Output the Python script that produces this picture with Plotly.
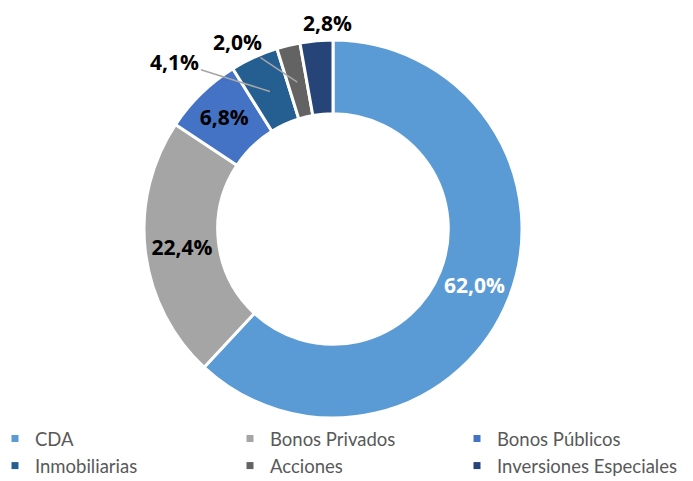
import math
import plotly.graph_objects as go

categories = ["CDA", "Bonos Privados", "Bonos Públicos", "Inmobiliarias", "Acciones", "Inversiones Especiales"]
values = [62.0, 22.4, 6.8, 4.1, 2.0, 2.8]
colors = ["#5B9BD5", "#A5A5A5", "#4472C4", "#255E91", "#636363", "#264478"]
text_colors = ["white", "black", "black", "black", "black", "black"]
inside = [True, True, True, False, False, False]

labels_txt = [f"{v:.1f}%".replace(".", ",") for v in values]

# the page body adds an 8px margin, so the figure is 8px smaller than the window
W, H = 685, 473
CX, CY, R = 325, 221, 189          # pie centre / radius in figure pixels
dom_x = [(CX - R) / W, (CX + R) / W]
dom_y = [(H - CY - R) / H, (H - CY + R) / H]
LABEL_FONT = dict(family="Open Sans, Liberation Sans, sans-serif", size=21, color="black")
LEGEND_FONT = dict(family="Lato, sans-serif", size=18.5, color="#595959")

fig = go.Figure(go.Pie(
    labels=categories,
    values=values,
    text=[t if i else "" for t, i in zip(labels_txt, inside)],
    textinfo="text",
    texttemplate="<b>%{text}</b>",
    textposition=["inside" if i else "none" for i in inside],
    insidetextorientation="horizontal",
    textfont=dict(family=LABEL_FONT["family"], size=21, color=text_colors),
    hole=0.61,
    sort=False,
    direction="clockwise",
    rotation=0,
    marker=dict(colors=colors, line=dict(color="white", width=3)),
    domain=dict(x=dom_x, y=dom_y),
    showlegend=False,
))

# legend entries: three columns of two rows (row-major order like the original)
legend_names = ["legend", "legend2", "legend3"]
for i, (cat, col) in enumerate(zip(categories, colors)):
    fig.add_trace(go.Scatter(
        x=[None], y=[None], mode="markers", name=cat,
        marker=dict(symbol="square", size=7, color=col),
        legend=legend_names[i % 3], showlegend=True, hoverinfo="skip",
    ))

# outside labels for the small slices, anchored on each slice's mid angle
total = sum(values)
cum = 0.0
mid_angles = []
for v in values:
    mid_angles.append((cum + v / 2) / total * 2 * math.pi)
    cum += v

# (radius fraction, text offset x, text offset y, show leader line)
label_style = {3: (0.80, -95, -30, True), 4: (0.80, -60, -40, True), 5: (1.0, 0, 0, False)}
for idx, (rf, ox, oy, arrow) in label_style.items():
    th = mid_angles[idx]
    px = CX + rf * R * math.sin(th)
    py = CY - rf * R * math.cos(th)
    if arrow:
        fig.add_annotation(
            x=px / W, y=1 - py / H, xref="paper", yref="paper",
            text=f"<b>{labels_txt[idx]}</b>", font=LABEL_FONT,
            showarrow=True, arrowhead=0, arrowwidth=1.5, arrowcolor="#A6A6A6",
            ax=ox, ay=oy, standoff=0,
        )
    else:
        fig.add_annotation(
            x=px / W, y=1 - py / H, xref="paper", yref="paper",
            text=f"<b>{labels_txt[idx]}</b>", font=LABEL_FONT,
            showarrow=False, yanchor="bottom", xanchor="center", xshift=11, yshift=2,
        )

leg_common = dict(orientation="v", y=1 - 412 / H, yanchor="top", xanchor="left",
                  font=LEGEND_FONT, itemwidth=30, bgcolor="rgba(0,0,0,0)",
                  tracegroupgap=0)
fig.update_layout(
    width=W, height=H,
    margin=dict(l=0, r=0, t=0, b=0, autoexpand=False),
    paper_bgcolor="white",
    plot_bgcolor="white",
    xaxis=dict(visible=False),
    yaxis=dict(visible=False),
    legend=dict(x=-13 / W, **leg_common),
    legend2=dict(x=222 / W, **leg_common),
    legend3=dict(x=449 / W, **leg_common),
)

fig.write_html("out.html")
